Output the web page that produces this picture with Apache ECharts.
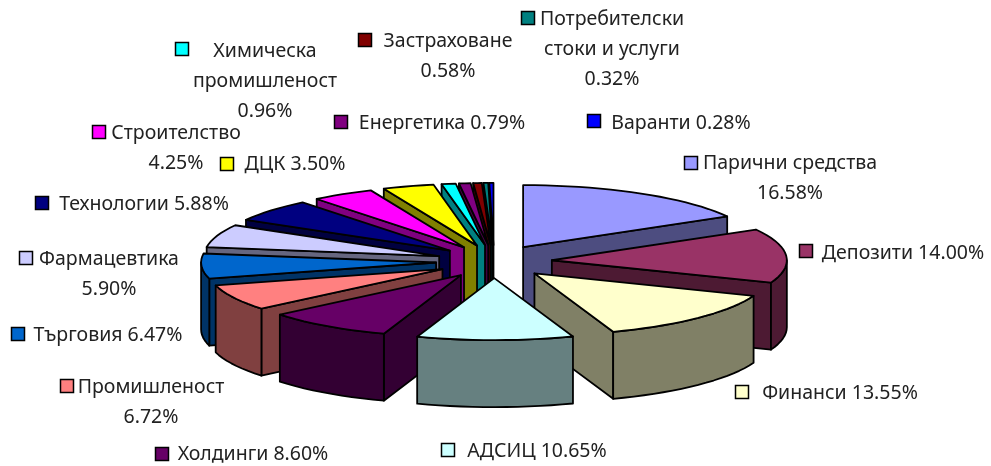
<!DOCTYPE html>
<html>
<head>
<meta charset="utf-8">
<style>
  html, body { margin: 0; padding: 0; background: #fff; }
  #container { width: 991px; height: 466px; }
</style>
<script src="https://cdn.jsdelivr.net/npm/echarts@6/dist/echarts.min.js"></script>
</head>
<body>
<div id="container"></div>
<script>
const categories = ['Парични средства', 'Депозити', 'Финанси', 'АДСИЦ', 'Холдинги', 'Промишленост', 'Търговия',
  'Фармацевтика', 'Технологии', 'Строителство', 'ДЦК', 'Химическа\nпромишленост', 'Енергетика', 'Застраховане',
  'Потребителски\nстоки и услуги', 'Варанти'];
const shares = [16.58, 14.00, 13.55, 10.65, 8.60, 6.72, 6.47, 5.90, 5.88, 4.25, 3.50, 0.96, 0.79, 0.58, 0.32, 0.28];
const colors = ['#9999FF', '#993366', '#FFFFCC', '#CCFFFF', '#660066', '#FF8080', '#0066CC', '#CCCCFF',
  '#000080', '#FF00FF', '#FFFF00', '#00FFFF', '#800080', '#800000', '#008080', '#0000FF'];
const wallColors = ['#4D4D80', '#4D1A33', '#808066', '#668080', '#330033', '#804040', '#003366', '#666680',
  '#000040', '#800080', '#808000', '#008080', '#400040', '#400000', '#004040', '#000080'];
// values that share a line with the name, the others go on a line of their own
const breakBeforeValue = [1, 0, 0, 0, 0, 1, 0, 1, 0, 1, 0, 1, 0, 1, 1, 0];

// label layout: centre of the text block and centre of the legend key
const labelCenters = [[790, 178], [903, 253], [840, 393], [537, 451], [253, 454], [151, 402], [108, 335], [109, 274],
  [144, 204], [176, 148], [295, 164], [265, 81], [442, 123], [448, 56], [612, 49], [681, 123]];
const keyCenters = [[691, 163], [806, 251], [742, 392], [448, 450], [162, 454], [67, 386], [18, 334], [26, 258],
  [42, 203], [99, 132], [227, 164], [182, 49], [341, 122], [365, 40], [528, 18], [594, 121]];

// pie geometry
const cx = 494, cy = 261.5, rx = 235, ry = 62, depth = 67, explodeX = 58, explodeY = 16.6;

const total = shares.reduce((a, b) => a + b, 0);
let acc = 0;
const slices = shares.map((v, i) => {
  const start = acc / total * Math.PI * 2;
  acc += v;
  const end = acc / total * Math.PI * 2;
  const mid = (start + end) / 2;
  return { i, start, end, ax: cx + explodeX * Math.sin(mid), ay: cy - explodeY * Math.cos(mid) };
});
// back to front
const order = slices.slice().sort((a, b) => a.ay - b.ay).map(s => s.i);

function arcPoints(s, from, to, dy) {
  const n = Math.max(2, Math.ceil((to - from) / 0.05));
  const pts = [];
  for (let k = 0; k <= n; k++) {
    const a = from + (to - from) * k / n;
    pts.push([s.ax + rx * Math.sin(a), s.ay - ry * Math.cos(a) + dy]);
  }
  return pts;
}

const edge = { stroke: '#000', lineWidth: 1.8, lineJoin: 'round' };

function poly(points, fill) {
  return { type: 'polygon', shape: { points }, style: { fill, ...edge } };
}

function radialFace(s, angle, fill) {
  const o = [s.ax + rx * Math.sin(angle), s.ay - ry * Math.cos(angle)];
  return poly([[s.ax, s.ay], o, [o[0], o[1] + depth], [s.ax, s.ay + depth]], fill);
}

function renderSlice(params, api) {
  const s = slices[api.value(0)];
  const wall = wallColors[s.i];
  const children = [];
  if (Math.sin(s.start) < -1e-6) children.push(radialFace(s, s.start, wall));
  if (Math.sin(s.end) > 1e-6) children.push(radialFace(s, s.end, wall));
  const from = Math.max(s.start, Math.PI / 2), to = Math.min(s.end, Math.PI * 1.5);
  if (to > from) {
    const top = arcPoints(s, from, to, 0);
    const bottom = arcPoints(s, from, to, depth).reverse();
    children.push(poly(top.concat(bottom), wall));
  }
  children.push(poly([[s.ax, s.ay]].concat(arcPoints(s, s.start, s.end, 0)), colors[s.i]));
  return { type: 'group', children };
}

function renderLabel(params, api) {
  const i = api.value(0);
  const text = categories[i] + (breakBeforeValue[i] ? '\n' : ' ') + shares[i].toFixed(2) + '%';
  const key = keyCenters[i], c = labelCenters[i];
  return {
    type: 'group',
    children: [
      { type: 'rect', shape: { x: key[0] - 6.5, y: key[1] - 6.5, width: 13, height: 13 },
        style: { fill: colors[i], stroke: '#000', lineWidth: 1.5 } },
      { type: 'text', style: { text, x: c[0], y: c[1], align: 'center', verticalAlign: 'middle',
        fontFamily: 'Noto Sans', fontSize: 19.5, lineHeight: 30, fill: '#222' } }
    ]
  };
}

const chartIns = echarts.init(document.getElementById('container'));
chartIns.setOption({
  animation: false,
  backgroundColor: '#fff',
  series: [
    { type: 'custom', coordinateSystem: 'none', silent: true, renderItem: renderSlice, data: order.map(i => [i]) },
    { type: 'custom', coordinateSystem: 'none', silent: true, renderItem: renderLabel, data: shares.map((v, i) => [i]) }
  ]
});
</script>
</body>
</html>
